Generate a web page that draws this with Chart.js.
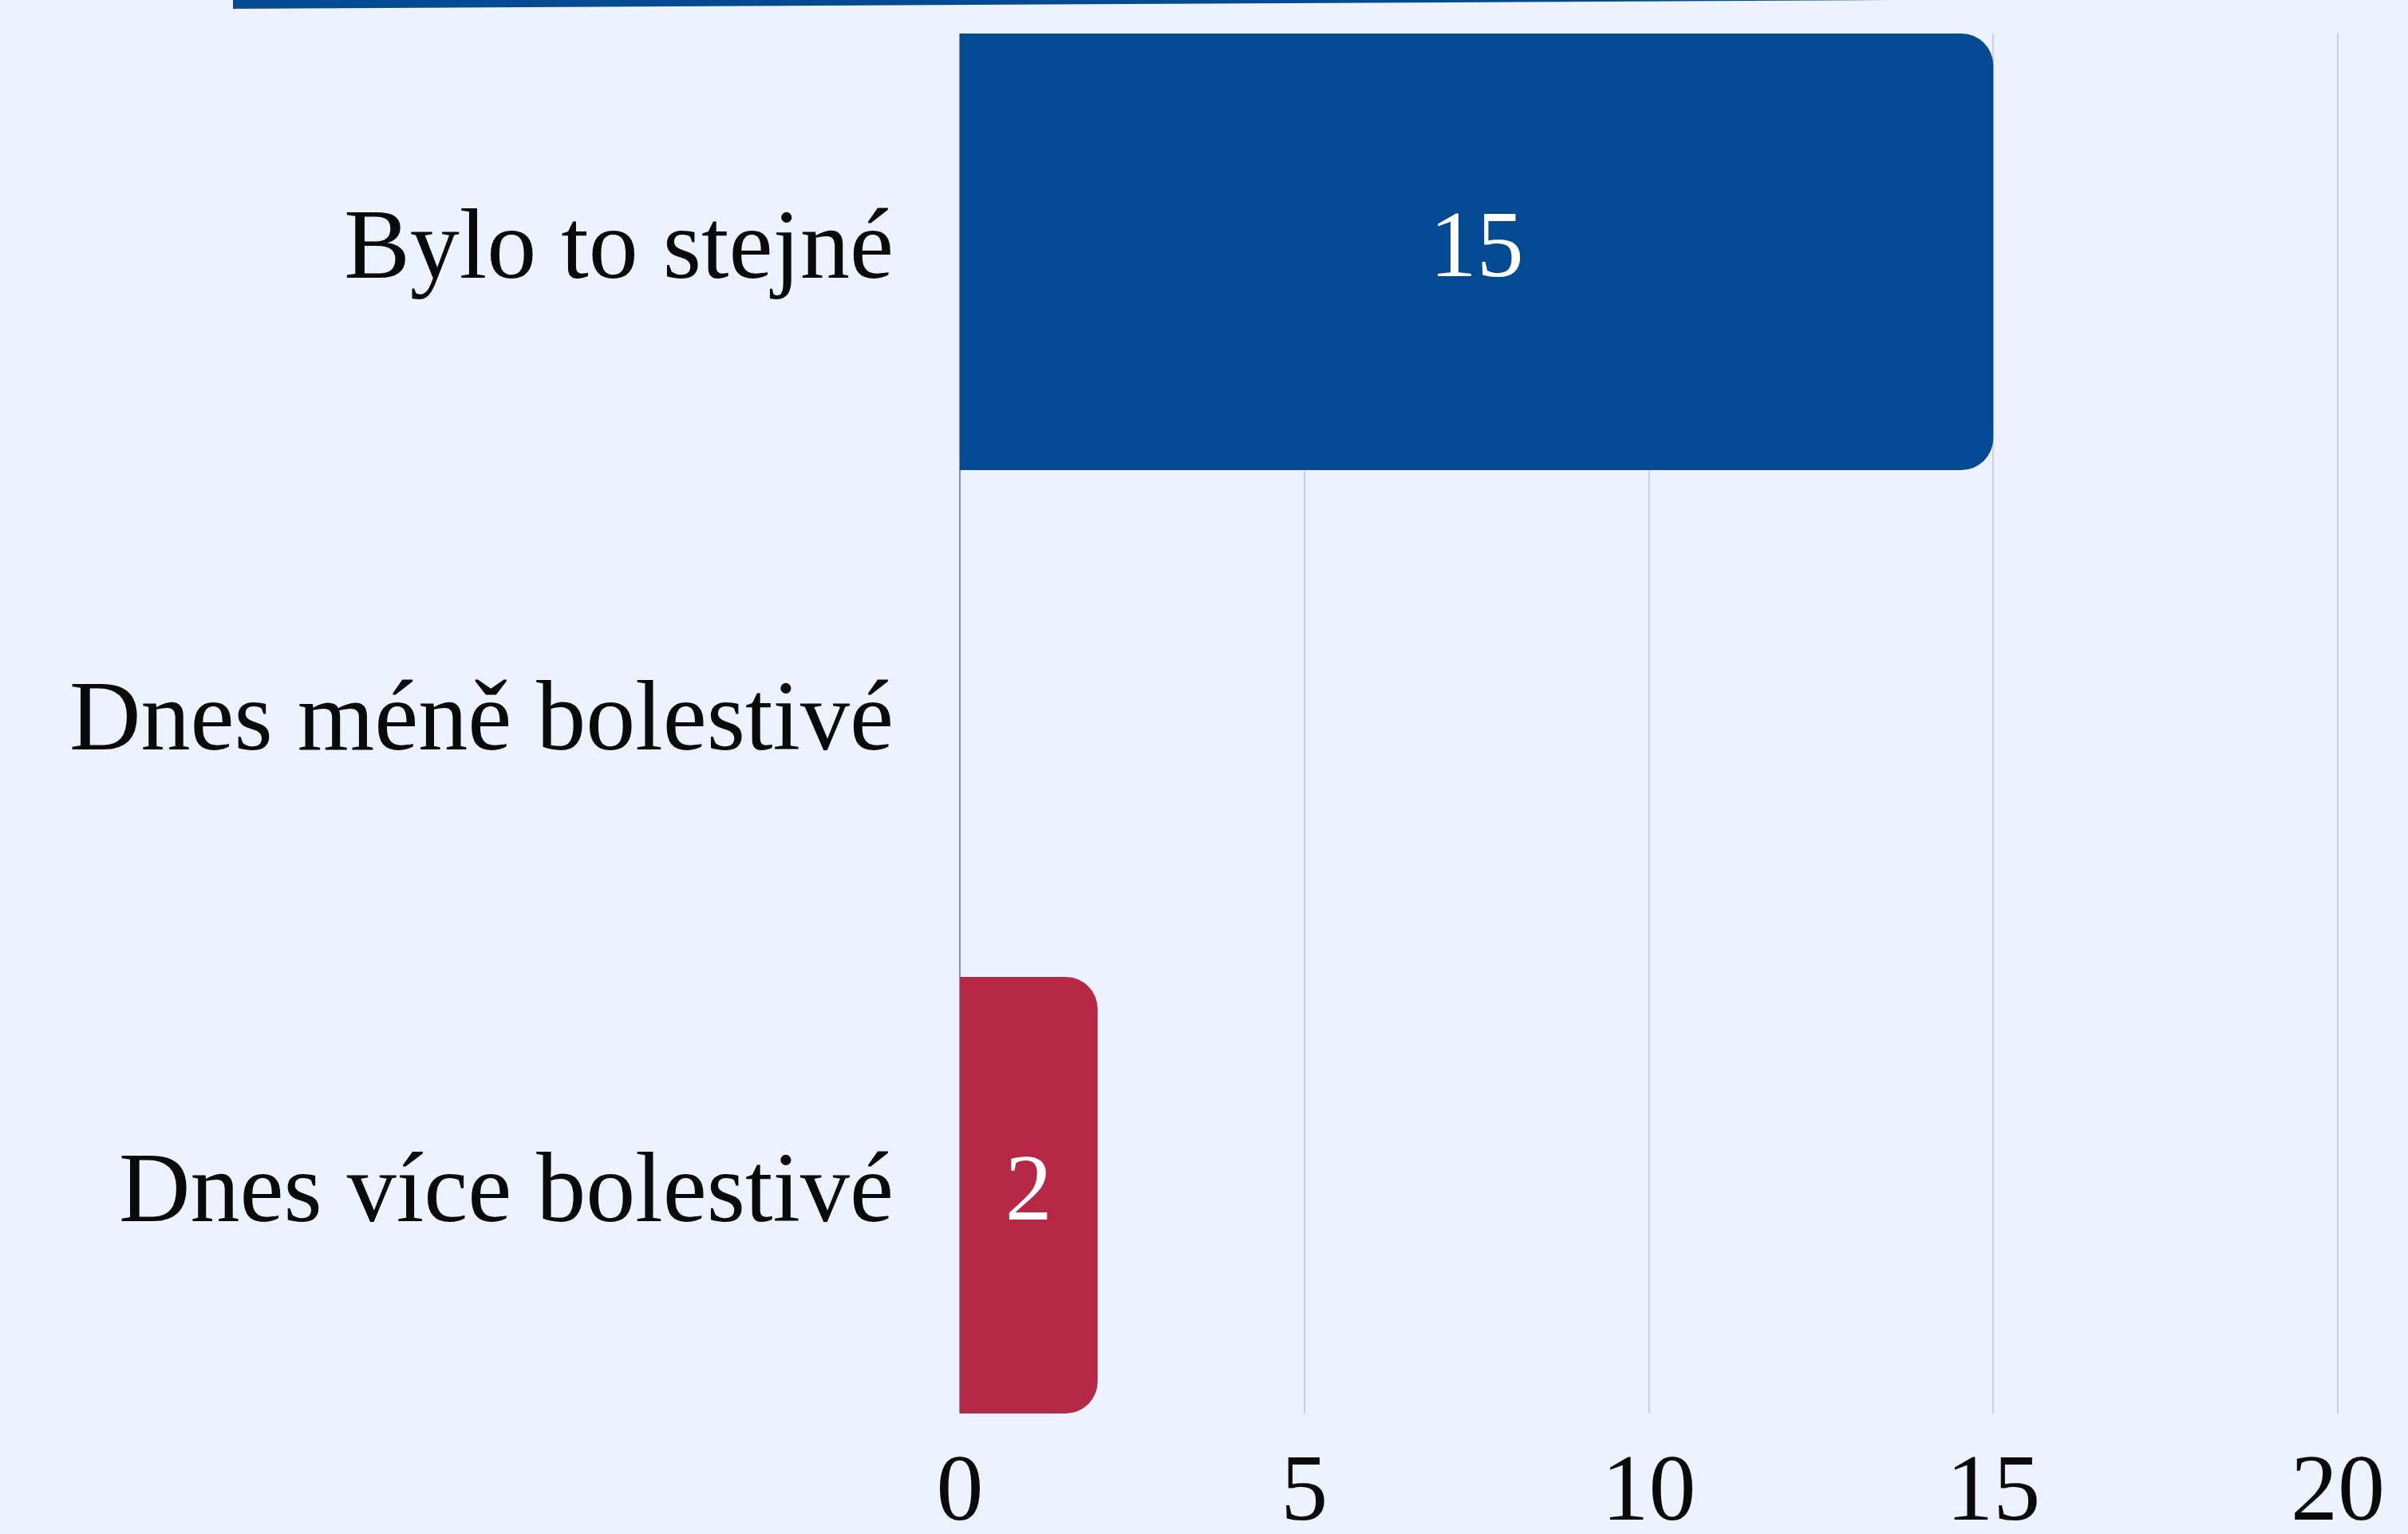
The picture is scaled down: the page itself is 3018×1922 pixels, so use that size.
<!DOCTYPE html>
<html>
<head>
<meta charset="utf-8">
<script src="https://cdn.jsdelivr.net/npm/chart.js@4/dist/chart.umd.min.js"></script>
<style>
  html, body { margin: 0; padding: 0; background: #ecf3fe; overflow: hidden; }
  #wrap { position: relative; width: 3018px; height: 1922px; }
  #topline {
    position: absolute; left: 292px; top: 0; width: 2080px; height: 11px;
    background: #034a93;
    clip-path: polygon(0 0, 100% 0, 0 100%);
  }
</style>
</head>
<body>
<div id="wrap">
  <div id="topline"></div>
  <canvas id="barChart"></canvas>
</div>
<script>
  // data
  const categories = ['Bylo to stejné', 'Dnes méně bolestivé', 'Dnes více bolestivé'];
  const answers = [15, 0, 2];
  const barColors = ['#034a93', '#5b7fb3', '#b52846'];
  const xTicks = [0, 5, 10, 15, 20];

  const serif = '"Liberation Serif", "DejaVu Serif", serif';

  // vertical grid lines, only as tall as the bar block
  const barGrid = {
    id: 'barGrid',
    beforeDatasetsDraw(chart) {
      const bars = chart.getDatasetMeta(0).data;
      const first = bars[0], last = bars[bars.length - 1];
      const top = first.y - first.height / 2;
      const bottom = last.y + last.height / 2;
      const xs = chart.scales.x;
      const ctx = chart.ctx;
      ctx.save();
      xTicks.forEach(function (t, i) {
        const px = Math.round(xs.getPixelForValue(t));
        ctx.strokeStyle = i === 0 ? '#8a929c' : '#c9d0da';
        ctx.lineWidth = 2;
        ctx.beginPath();
        ctx.moveTo(px, top);
        ctx.lineTo(px, bottom);
        ctx.stroke();
      });
      ctx.restore();
    }
  };

  // value labels inside bars
  const valueLabels = {
    id: 'valueLabels',
    afterDatasetsDraw(chart) {
      const ctx = chart.ctx;
      chart.getDatasetMeta(0).data.forEach(function (bar, i) {
        const v = answers[i];
        if (!v) return;
        ctx.save();
        ctx.fillStyle = '#ffffff';
        ctx.font = '118px ' + serif;
        ctx.textAlign = 'center';
        ctx.textBaseline = 'middle';
        ctx.fillText(String(v), (bar.x + bar.base) / 2, bar.y);
        ctx.restore();
      });
    }
  };

  const ctx = document.getElementById('barChart').getContext('2d');
  new Chart(ctx, {
    type: 'bar',
    data: {
      labels: categories,
      datasets: [{
        data: answers,
        backgroundColor: barColors,
        borderRadius: 40,
        borderSkipped: 'start',
        categoryPercentage: 1,
        barPercentage: 0.9255
      }]
    },
    options: {
      indexAxis: 'y',
      responsive: true,
      maintainAspectRatio: false,
      animation: false,
      layout: { padding: { top: 20, right: 88, left: 0, bottom: 0 } },
      plugins: {
        legend: { display: false },
        tooltip: { enabled: false }
      },
      scales: {
        x: {
          min: xTicks[0],
          max: xTicks[xTicks.length - 1],
          afterBuildTicks(scale) {
            scale.ticks = xTicks.map(v => ({ value: v }));
          },
          afterFit(scale) {
            scale.height = 129;
            scale.paddingLeft = 0;
            scale.paddingRight = 0;
          },
          grid: { display: false, drawTicks: false },
          border: { display: false },
          ticks: {
            padding: 9,
            color: '#0a0a0a',
            font: { family: serif, size: 118 }
          }
        },
        y: {
          afterFit(scale) {
            scale.width = 1203;
            scale.paddingTop = 0;
            scale.paddingBottom = 0;
          },
          grid: { display: false, drawTicks: false },
          border: { display: false },
          ticks: {
            padding: 83,
            color: '#0a0a0a',
            font: { family: serif, size: 124 }
          }
        }
      }
    },
    plugins: [barGrid, valueLabels]
  });
</script>
</body>
</html>
